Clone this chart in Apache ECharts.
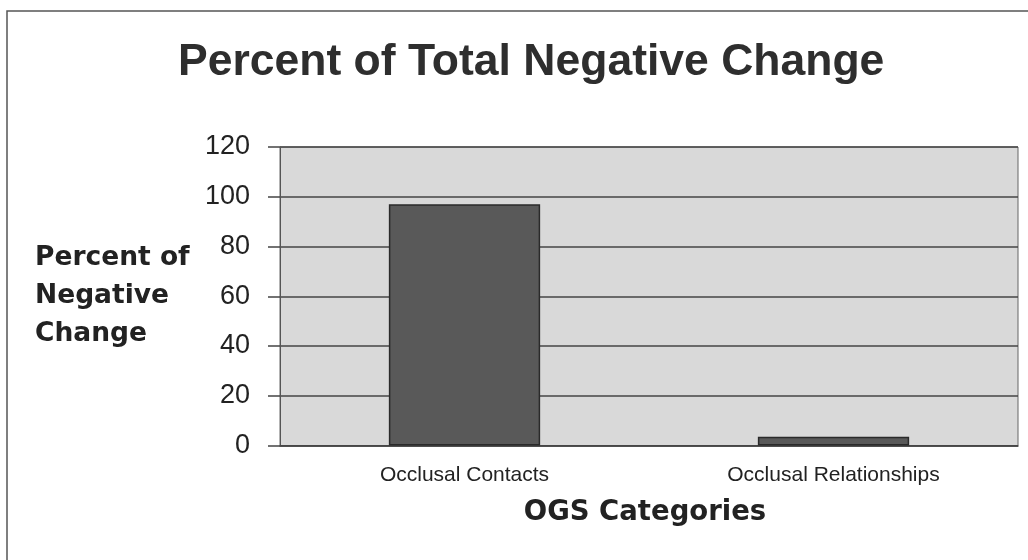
<!DOCTYPE html>
<html>
<head>
<meta charset="utf-8">
<script src="https://cdn.jsdelivr.net/npm/echarts@6/dist/echarts.min.js"></script>
<style>
html,body{margin:0;padding:0;background:#fff;}
#chart{width:1028px;height:560px;}
</style>
</head>
<body>
<div id="chart"></div>
<script>
var chartTitle = 'Percent of Total Negative Change';
var categories = ['Occlusal Contacts', 'Occlusal Relationships'];
var values = [97, 3.5];
var yTicks = [0, 20, 40, 60, 80, 100, 120];
var yAxisName = 'Percent of\nNegative\nChange';
var xAxisName = 'OGS Categories';

var chart = echarts.init(document.getElementById('chart'));
chart.setOption({
  animation: false,
  backgroundColor: '#ffffff',
  title: {
    text: chartTitle,
    left: 173,
    top: 35,
    textStyle: { fontFamily: 'Liberation Sans', fontWeight: 'bold', fontSize: 44.5, color: '#2e2e2e' }
  },
  graphic: [{
    type: 'rect',
    silent: true,
    shape: { x: 7, y: 11, width: 1200, height: 900 },
    style: { fill: 'none', stroke: '#555', lineWidth: 1.5 }
  }],
  grid: {
    left: 280, top: 147, right: 10, bottom: 114.5,
    show: true, backgroundColor: '#d9d9d9', borderColor: '#666', borderWidth: 1
  },
  xAxis: {
    type: 'category',
    data: categories,
    name: xAxisName,
    nameLocation: 'middle',
    nameGap: 67,
    nameTextStyle: { fontFamily: 'DejaVu Sans', fontWeight: 'bold', fontSize: 27.5, color: '#222', verticalAlign: 'middle', padding: [0, 0, 0, -8] },
    axisLine: { show: true, lineStyle: { color: '#444', width: 1.5 } },
    axisTick: { show: false },
    axisLabel: { fontFamily: 'Liberation Sans', fontSize: 21, color: '#222', margin: 19 }
  },
  yAxis: {
    type: 'value',
    min: yTicks[0],
    max: yTicks[yTicks.length - 1],
    interval: yTicks[1] - yTicks[0],
    name: yAxisName,
    nameLocation: 'middle',
    nameRotate: 0,
    nameGap: 245,
    nameTextStyle: { fontFamily: 'DejaVu Sans', fontWeight: 'bold', fontSize: 26.5, color: '#222', align: 'left', verticalAlign: 'middle', lineHeight: 38 },
    axisLine: { show: true, lineStyle: { color: '#555', width: 1 } },
    axisTick: { show: true, length: 12, lineStyle: { color: '#444', width: 1.5 } },
    axisLabel: { fontFamily: 'Liberation Sans', fontSize: 27, color: '#222', margin: 30 },
    splitLine: { show: true, lineStyle: { color: '#444', width: 1.6 } }
  },
  series: [{
    type: 'bar',
    data: values,
    barWidth: '41%',
    itemStyle: { color: '#595959', borderColor: '#2a2a2a', borderWidth: 1.5 }
  }]
});
</script>
</body>
</html>
